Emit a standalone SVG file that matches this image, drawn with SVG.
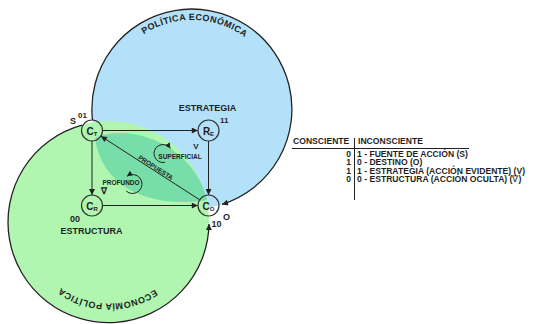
<svg xmlns="http://www.w3.org/2000/svg" width="544" height="324" viewBox="0 0 544 324">
<defs>
<style>
.t{font-family:"Liberation Sans",Arial,Helvetica,sans-serif;font-weight:bold;fill:#1f1f1f}
.ln{fill:none;stroke:#222;stroke-width:1}
.node{fill:none;stroke:#333;stroke-width:1.2}
.big{fill:none;stroke:#222;stroke-width:1.3}
.leg{stroke:#222;stroke-width:1;fill:none}
.lg{font-size:8.6px}
</style>
<marker id="ah" viewBox="0 0 10 10" refX="10" refY="5" markerUnits="userSpaceOnUse" markerWidth="7" markerHeight="6" orient="auto"><path d="M0,0 L10,5 L0,10 z" fill="#222"/></marker>
<marker id="ahs" viewBox="0 0 10 10" refX="10" refY="5" markerUnits="userSpaceOnUse" markerWidth="6" markerHeight="5.5" orient="auto"><path d="M0,0 L10,5 L0,10 z" fill="#222"/></marker>
<path id="topArc" d="M103,109 A89,89 0 0 1 281,109"/>
<path id="botArc" d="M191,221.5 A82,82 0 0 1 27,221.5"/>
</defs>
<rect width="544" height="324" fill="#ffffff"/>
<g id="regions">
<circle cx="192" cy="109" r="100" fill="#b3e1f9"/>
<circle cx="108.5" cy="221.5" r="100.5" fill="#b0f6b0"/>
<path d="M95,138 C132,122 194,146 207,200 C160,208 103,194 95,138 Z" fill="#78dea9"/>
<text class="t" font-size="9" letter-spacing="0.4"><textPath href="#topArc" startOffset="51%" text-anchor="middle">POLÍTICA ECONÓMICA</textPath></text>
<text class="t" font-size="9" letter-spacing="0.4"><textPath href="#botArc" startOffset="50.6%" text-anchor="middle">ECONOMÍA POLÍTICA</textPath></text>
</g>
<g id="connectors">
<path class="big" d="M92.5,120 A100,100 0 1 1 222,204.4" marker-end="url(#ah)"/>
<path class="big" d="M82,125.2 A100.5,100.5 0 1 0 209,224" marker-end="url(#ah)"/>
<path class="ln" d="M102.5,130.5 H197.8" marker-end="url(#ah)"/>
<path class="ln" d="M92,141 V195" marker-end="url(#ah)"/>
<path class="ln" d="M208.5,141 V195" marker-end="url(#ah)"/>
<path class="ln" d="M102.5,205.5 H197.8" marker-end="url(#ah)"/>
<path class="ln" d="M199.7,199.8 L100.9,136.2" marker-end="url(#ah)"/>
<path class="ln" d="M165,162.3 A9,9 0 1 1 170.46,148.47" marker-end="url(#ahs)"/>
<path class="ln" d="M126.27,191.17 A9.5,9.5 0 1 0 126.97,176.28" marker-end="url(#ahs)"/>
<text class="t" font-size="6.5" transform="translate(154.5,169.5) rotate(32.8)" text-anchor="middle">PROPUESTA</text>
<text class="t" font-size="6.5" x="180" y="158.5" text-anchor="middle">SUPERFICIAL</text>
<text class="t" font-size="6.5" x="121" y="184.5" text-anchor="middle">PROFUNDO</text>
<text class="t" font-size="9" x="104" y="194" text-anchor="middle" font-weight="normal">∇</text>
</g>
<g id="node-ct">
<circle class="node" cx="92" cy="130.5" r="10.5"/>
<text class="t" font-size="10" x="92" y="134.5" text-anchor="middle">C<tspan font-size="6" dy="1.5">T</tspan></text>
<text class="t" font-size="9" x="70" y="124">S</text>
<text class="t" font-size="8" x="78" y="118">01</text>
</g>
<g id="node-re">
<circle class="node" cx="208.5" cy="130.5" r="10.5"/>
<text class="t" font-size="10" x="208.5" y="134.5" text-anchor="middle">R<tspan font-size="6" dy="1.5">E</tspan></text>
<text class="t" font-size="8" x="220" y="123">11</text>
<text class="t" font-size="9" x="207.5" y="111" text-anchor="middle">ESTRATEGIA</text>
<text class="t" font-size="8" x="196" y="148.5" text-anchor="middle">V</text>
</g>
<g id="node-cr">
<circle class="node" cx="92" cy="205.5" r="10.5"/>
<text class="t" font-size="10" x="92" y="209.5" text-anchor="middle">C<tspan font-size="6" dy="1.5">R</tspan></text>
<text class="t" font-size="9" x="70" y="222">00</text>
<text class="t" font-size="9" x="91.5" y="234" text-anchor="middle">ESTRUCTURA</text>
</g>
<g id="node-co">
<circle class="node" cx="208.5" cy="205.5" r="10.5"/>
<text class="t" font-size="10" x="208.5" y="209.5" text-anchor="middle">C<tspan font-size="6" dy="1.5">O</tspan></text>
<text class="t" font-size="9" x="211.5" y="227">10</text>
<text class="t" font-size="9" x="223" y="219.5">O</text>
</g>
<g id="legend">
<line class="leg" x1="292" y1="148.5" x2="469" y2="148.5"/>
<line class="leg" x1="354.5" y1="138" x2="354.5" y2="200"/>
<text class="t lg" x="293" y="143.5">CONSCIENTE</text>
<text class="t lg" x="358" y="143.5">INCONSCIENTE</text>
<text class="t lg" x="351" y="156.5" text-anchor="end">0</text>
<text class="t lg" x="351" y="165" text-anchor="end">1</text>
<text class="t lg" x="351" y="173.5" text-anchor="end">1</text>
<text class="t lg" x="351" y="182" text-anchor="end">0</text>
<text class="t lg" x="357" y="156.5">1 - FUENTE DE ACCIÓN (S)</text>
<text class="t lg" x="357" y="165">0 - DESTINO (O)</text>
<text class="t lg" x="357" y="173.5">1 - ESTRATEGIA (ACCIÓN EVIDENTE) (V)</text>
<text class="t lg" x="357" y="182">0 - ESTRUCTURA (ACCIÓN OCULTA) (<tspan font-weight="normal">∇</tspan>)</text>
</g>
</svg>
